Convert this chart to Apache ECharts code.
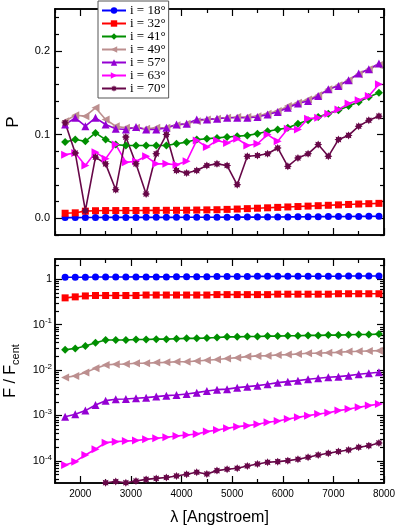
<!DOCTYPE html>
<html>
<head>
<meta charset="utf-8">
<script src="https://cdn.jsdelivr.net/npm/echarts@6/dist/echarts.min.js"></script>
<style>
  html, body { margin: 0; padding: 0; background: #fff; }
  #chart { width: 399px; height: 531px; }
</style>
</head>
<body>
<div id="chart"></div>
<script>
// wavelength grid (Angstroem)
const wavelength = [1700, 1900, 2100, 2300, 2500, 2700, 2900, 3100, 3300, 3500, 3700, 3900, 4100, 4300, 4500, 4700,
                    4900, 5100, 5300, 5500, 5700, 5900, 6100, 6300, 6500, 6700, 6900, 7100, 7300, 7500, 7700, 7900];
const inclinations = ['i = 18°', 'i = 32°', 'i = 41°', 'i = 49°', 'i = 57°', 'i = 63°', 'i = 70°'];

// polarisation degree P (upper panel)
const pol18 = [0.0008, 0.0008, 0.0009, 0.0009, 0.0010, 0.0010, 0.0010, 0.0010, 0.0011, 0.0011, 0.0011, 0.0011, 0.0012, 0.0012, 0.0012, 0.0012,
               0.0013, 0.0013, 0.0014, 0.0014, 0.0015, 0.0015, 0.0016, 0.0017, 0.0018, 0.0019, 0.0020, 0.0020, 0.0021, 0.0022, 0.0023, 0.0024];
const pol32 = [0.0060, 0.0065, 0.0085, 0.0090, 0.0092, 0.0092, 0.0093, 0.0093, 0.0094, 0.0094, 0.0095, 0.0095, 0.0096, 0.0098, 0.0100, 0.0102,
               0.0106, 0.0110, 0.0115, 0.0120, 0.0125, 0.0130, 0.0135, 0.0140, 0.0145, 0.0150, 0.0155, 0.0160, 0.0165, 0.0170, 0.0174, 0.0178];
const pol41 = [0.091, 0.094, 0.092, 0.102, 0.094, 0.088, 0.087, 0.087, 0.087, 0.087, 0.087, 0.089, 0.091, 0.094, 0.095, 0.096,
               0.097, 0.098, 0.099, 0.101, 0.104, 0.106, 0.108, 0.113, 0.117, 0.121, 0.125, 0.129, 0.134, 0.139, 0.145, 0.150];
const pol49 = [0.116, 0.123, 0.122, 0.132, 0.118, 0.110, 0.108, 0.108, 0.107, 0.108, 0.108, 0.111, 0.113, 0.116, 0.118, 0.119,
               0.120, 0.121, 0.121, 0.122, 0.125, 0.128, 0.134, 0.138, 0.142, 0.147, 0.154, 0.159, 0.165, 0.172, 0.178, 0.183];
const pol57 = [0.112, 0.120, 0.110, 0.120, 0.112, 0.107, 0.106, 0.109, 0.106, 0.106, 0.108, 0.112, 0.113, 0.118, 0.118, 0.119,
               0.120, 0.120, 0.120, 0.121, 0.124, 0.127, 0.132, 0.137, 0.140, 0.146, 0.154, 0.158, 0.165, 0.173, 0.178, 0.185];
const pol63 = [0.076, 0.078, 0.063, 0.079, 0.071, 0.088, 0.067, 0.068, 0.074, 0.065, 0.065, 0.064, 0.068, 0.093, 0.085, 0.093,
               0.090, 0.095, 0.087, 0.089, 0.100, 0.092, 0.107, 0.106, 0.119, 0.120, 0.125, 0.130, 0.137, 0.141, 0.146, 0.160];
const pol70 = [0.114, 0.078, 0.009, 0.073, 0.065, 0.034, 0.097, 0.065, 0.029, 0.077, 0.100, 0.057, 0.054, 0.057, 0.063, 0.065,
               0.063, 0.040, 0.074, 0.075, 0.077, 0.084, 0.062, 0.072, 0.077, 0.088, 0.074, 0.094, 0.099, 0.110, 0.117, 0.122];

// flux ratio F / F_cent (lower panel)
const flux18 = [1.11, 1.11, 1.11, 1.12, 1.12, 1.12, 1.12, 1.13, 1.13, 1.13, 1.13, 1.14, 1.14, 1.14, 1.14, 1.15,
                1.15, 1.15, 1.15, 1.16, 1.16, 1.16, 1.16, 1.17, 1.17, 1.17, 1.17, 1.17, 1.18, 1.18, 1.18, 1.18];
const flux32 = [0.39, 0.41, 0.43, 0.44, 0.44, 0.44, 0.44, 0.44, 0.45, 0.45, 0.45, 0.45, 0.45, 0.45, 0.45, 0.46,
                0.46, 0.46, 0.46, 0.46, 0.46, 0.47, 0.47, 0.47, 0.47, 0.47, 0.47, 0.48, 0.48, 0.48, 0.48, 0.48];
const flux41 = [0.028, 0.030, 0.034, 0.040, 0.046, 0.046, 0.046, 0.047, 0.047, 0.048, 0.048, 0.049, 0.050, 0.050, 0.051, 0.052,
                0.054, 0.054, 0.055, 0.055, 0.056, 0.056, 0.057, 0.057, 0.058, 0.058, 0.059, 0.059, 0.060, 0.061, 0.061, 0.062];
const flux49 = [0.0069, 0.0074, 0.0088, 0.0109, 0.0130, 0.0134, 0.0136, 0.0141, 0.0141, 0.0146, 0.0148, 0.0153, 0.0153, 0.0159, 0.0165, 0.0171,
                0.0180, 0.0188, 0.0198, 0.0205, 0.0208, 0.0215, 0.0219, 0.0226, 0.0234, 0.0234, 0.0242, 0.0246, 0.0255, 0.0259, 0.0264, 0.0268];
const flux57 = [9.4e-4, 1.06e-3, 1.28e-3, 1.70e-3, 2.12e-3, 2.27e-3, 2.31e-3, 2.39e-3, 2.47e-3, 2.60e-3, 2.73e-3, 2.83e-3, 2.98e-3, 3.18e-3, 3.46e-3, 3.70e-3,
                3.80e-3, 4.10e-3, 4.31e-3, 4.54e-3, 4.86e-3, 5.28e-3, 5.56e-3, 5.85e-3, 6.26e-3, 6.59e-3, 6.93e-3, 7.17e-3, 7.54e-3, 8.07e-3, 8.49e-3, 8.93e-3];
const flux63 = [8.1e-5, 9.6e-5, 1.35e-4, 1.80e-4, 2.52e-4, 2.65e-4, 2.74e-4, 2.79e-4, 2.99e-4, 3.14e-4, 3.30e-4, 3.53e-4, 3.72e-4, 3.91e-4, 4.41e-4, 4.80e-4,
                5.21e-4, 5.67e-4, 5.97e-4, 6.39e-4, 7.07e-4, 7.57e-4, 8.38e-4, 9.11e-4, 9.91e-4, 1.08e-3, 1.15e-3, 1.28e-3, 1.39e-3, 1.51e-3, 1.65e-3, 1.79e-3];
const flux70 = [null, null, null, null, 3.3e-5, 3.5e-5, 3.3e-5, 3.6e-5, 3.9e-5, 4.1e-5, 4.3e-5, 4.65e-5, 5.06e-5, 5.6e-5, 5.15e-5, 6.09e-5,
                6.52e-5, 6.86e-5, 7.72e-5, 8.55e-5, 9.29e-5, 9.61e-5, 1.01e-4, 1.08e-4, 1.20e-4, 1.35e-4, 1.47e-4, 1.60e-4, 1.74e-4, 1.99e-4, 2.16e-4, 2.48e-4];

// ticks
const xMajor = [2000, 3000, 4000, 5000, 6000, 7000, 8000];
const xMinor = [1500, 2500, 3500, 4500, 5500, 6500, 7500];
const pMajor = [0, 0.1, 0.2];
const pMinor = [-0.02, 0.02, 0.04, 0.06, 0.08, 0.12, 0.14, 0.16, 0.18, 0.22, 0.24];
const fMajor = [1e-4, 1e-3, 1e-2, 1e-1, 1];

const fMinor = [];
for (let d = -5; d <= 0; d++) {
    for (let m = 2; m <= 9; m++) fMinor.push(m * Math.pow(10, d));
}

const polData = [pol18, pol32, pol41, pol49, pol57, pol63, pol70];
const fluxData = [flux18, flux32, flux41, flux49, flux57, flux63, flux70];

function starPath(n, inner) {
    let d = '';
    for (let i = 0; i < 2 * n; i++) {
        const r = i % 2 ? inner : 1;
        const a = Math.PI * i / n - Math.PI / 2;
        d += (i ? 'L' : 'M') + (r * Math.cos(a)).toFixed(3) + ' ' + (r * Math.sin(a)).toFixed(3);
    }
    return 'path://' + d + 'Z';
}

const styles = [
    { color: '#0000ff', symbol: 'circle', size: 7 },
    { color: '#ff0000', symbol: 'rect', size: 7 },
    { color: '#008f00', symbol: 'diamond', size: 8 },
    { color: '#bc8f8f', symbol: 'triangle', size: 8, rotate: 90 },
    { color: '#9400d3', symbol: 'triangle', size: 8 },
    { color: '#ff00ff', symbol: 'triangle', size: 8, rotate: -90 },
    { color: '#670748', symbol: starPath(8, 0.62), size: 8 }
];

const FONT = 'Liberation Sans';
const xScale = { type: 'value', min: 1500, max: 8000 };
const pScale = { type: 'value', min: -0.02, max: 0.25 };
const fScale = { type: 'log', logBase: 10, min: 3.25e-5, max: 2.8 };

// one frame side: an axis line with a set of inward ticks
function side(grid, position, scale, values, len, extra) {
    return Object.assign({
        gridIndex: grid,
        position: position,
        axisLine: { show: true, onZero: false, lineStyle: { color: '#000', width: 1.5 } },
        axisTick: { show: true, inside: true, length: len, customValues: values, lineStyle: { color: '#000', width: 1.2 } },
        axisLabel: { show: false },
        splitLine: { show: false }
    }, scale, extra || {});
}

function frame(grid, yScale, yMaj, yMin, xExtra, yExtra) {
    return {
        x: [
            side(grid, 'bottom', xScale, xMajor, 7, xExtra),
            side(grid, 'bottom', xScale, xMinor, 4),
            side(grid, 'top', xScale, xMajor, 7),
            side(grid, 'top', xScale, xMinor, 4)
        ],
        y: [
            side(grid, 'left', yScale, yMaj, 7, yExtra),
            side(grid, 'left', yScale, yMin, 4),
            side(grid, 'right', yScale, yMaj, 7),
            side(grid, 'right', yScale, yMin, 4)
        ]
    };
}

const upperFrame = frame(0, pScale, pMajor, pMinor, {}, {
    name: 'P',
    nameLocation: 'middle',
    nameGap: 33,
    nameTextStyle: { fontFamily: FONT, fontSize: 17, color: '#000' },
    axisLabel: {
        show: true, customValues: pMajor, margin: 5,
        fontFamily: FONT, fontSize: 11, color: '#000',
        formatter: v => v.toFixed(1)
    }
});

const lowerFrame = frame(1, fScale, fMajor, fMinor, {
    name: 'λ [Angstroem]',
    nameLocation: 'middle',
    nameGap: 27,
    nameTextStyle: { fontFamily: FONT, fontSize: 16, color: '#000' },
    axisLabel: {
        show: true, customValues: xMajor, margin: 6,
        fontFamily: FONT, fontSize: 10, color: '#000',
        formatter: v => String(v)
    }
}, {
    name: 'F / F{sub|cent}',
    nameLocation: 'middle',
    nameGap: 31,
    nameTextStyle: {
        fontFamily: FONT, fontSize: 16, color: '#000', lineHeight: 22,
        rich: { sub: { fontFamily: FONT, fontSize: 11, lineHeight: 11, verticalAlign: 'bottom', color: '#000' } }
    },
    axisLabel: {
        show: true, customValues: fMajor, margin: 3,
        fontFamily: FONT, color: '#000',
        formatter: v => {
            const e = Math.round(Math.log10(v));
            return e === 0 ? '{b|1}' : '{b|10}{s|' + e + '}';
        },
        rich: {
            b: { fontFamily: FONT, fontSize: 11, lineHeight: 15, color: '#000' },
            s: { fontFamily: FONT, fontSize: 8, lineHeight: 8, verticalAlign: 'top', color: '#000' }
        }
    }
});

function makeSeries(idx, values, grid) {
    const st = styles[idx];
    return {
        name: inclinations[idx],
        type: 'line',
        xAxisIndex: grid * 4,
        yAxisIndex: grid * 4,
        data: wavelength.map((w, i) => [w, values[i]]),
        symbol: st.symbol,
        symbolSize: st.size,
        symbolRotate: st.rotate || 0,
        lineStyle: { color: st.color, width: 1.6 },
        itemStyle: { color: st.color },
        clip: true,
        animation: false
    };
}

const series = [];
polData.forEach((vals, i) => series.push(makeSeries(i, vals, 0)));
fluxData.forEach((vals, i) => series.push(makeSeries(i, vals, 1)));

const chart = echarts.init(document.getElementById('chart'), null, { renderer: 'canvas' });
chart.setOption({
    animation: false,
    backgroundColor: '#fff',
    grid: [
        { left: 55, right: 15, top: 9, height: 226, containLabel: false, outerBoundsMode: 'none' },
        { left: 55, right: 15, top: 259, height: 224, containLabel: false, outerBoundsMode: 'none' }
    ],
    xAxis: upperFrame.x.concat(lowerFrame.x),
    yAxis: upperFrame.y.concat(lowerFrame.y),
    legend: {
        data: inclinations,
        orient: 'vertical',
        left: 98,
        top: 1,
        itemWidth: 24,
        itemHeight: 8,
        itemGap: 0,
        padding: [3, 3, 3, 3],
        backgroundColor: '#fff',
        borderColor: '#555',
        borderWidth: 1,
        textStyle: { fontFamily: 'Liberation Serif', fontSize: 13, lineHeight: 12.6, color: '#000', padding: [0, 0, 0, -1] }
    },
    series: series
});
</script>
</body>
</html>
